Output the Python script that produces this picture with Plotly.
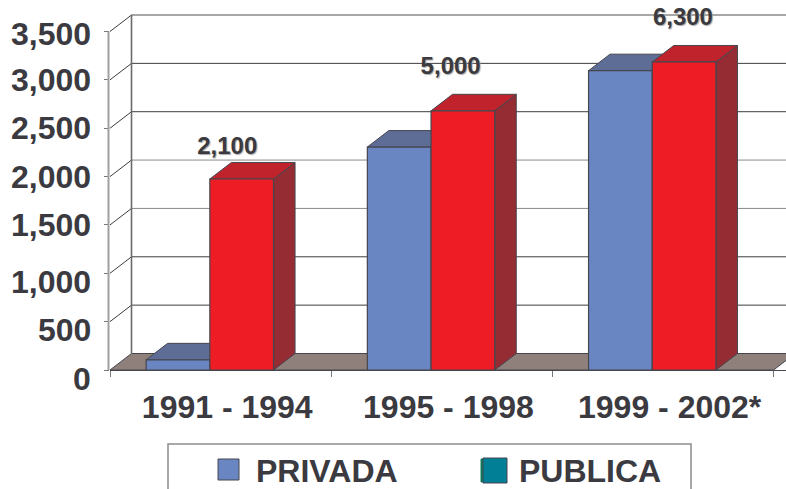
import plotly.graph_objects as go

# Data
categories = ["1991 - 1994", "1995 - 1998", "1999 - 2002*"]
privada = [105, 2305, 3095]
publica = [1975, 2680, 3185]
totals = ["2,100", "5,000", "6,300"]
total_label_x = [0.53, 1.54, 2.59]
total_label_y = [2296, 3123, 3630]
y_ticks = [0, 500, 1000, 1500, 2000, 2500, 3000, 3500]
y_tick_labels = ["0", "500", "1,000", "1,500", "2,000", "2,500", "3,000", "3,500"]
y_label_shift = [-9, -8, -9, 0, 0, 0, 0, -2]
legend_names = ["PRIVADA", "PUBLICA"]

# Styles / pseudo-3D geometry (in axis units)
W, H = 786, 489
L, B_PX = 110, 370
PX_X, PX_Y = 221.2, 338.5 / 3500
DX, DY = 21.5 / PX_X, 16.5 / PX_Y
BAR_W = 63.7 / PX_X
INK = "#3a3a40"
BLUE, BLUE_TOP, BLUE_SIDE = "#6A86C2", "#5D6D96", "#56648A"
RED, RED_TOP, RED_SIDE = "#EE1C25", "#C1232C", "#952C33"
FLOOR = "#8F807B"
EDGE = "#46464E"
FONT = "Liberation Sans"
BIG = 32

px2paper_x = lambda p: (p - L) / (W - L)
px2paper_y = lambda p: (B_PX - p) / B_PX

def poly(pts):
    return "M" + " L".join(f"{x},{y}" for x, y in pts) + " Z"

def data_shape(path, fill, line=EDGE, width=1):
    return dict(type="path", path=path, xref="x", yref="y", layer="below",
                fillcolor=fill, line=dict(color=line, width=width))

def line_shape(x0, y0, x1, y1, color, width=1):
    return dict(type="line", x0=x0, y0=y0, x1=x1, y1=y1, xref="x", yref="y",
                layer="below", line=dict(color=color, width=width))

n = len(categories)
centres = [i + 0.5 - DX / 2 for i in range(n)]
shapes = []

# floor
shapes.append(data_shape(poly([(0, 0), (DX, DY), (n + DX, DY), (n, 0)]), FLOOR))
# walls and grid
for v in y_ticks[1:]:
    c = "#8a8a8a" if v in (3500, 2000, 1500) else "#3c3c40"
    shapes.append(line_shape(DX, v + DY, n + DX, v + DY, c, 1.3 if v == 3500 else 1))
    shapes.append(line_shape(0, v, DX, v + DY, "#3c3c40"))
shapes.append(line_shape(DX, DY, DX, y_ticks[-1] + DY, "#6a6a6a", 1.6))
# value axis line, stopping at the top tick
shapes.append(dict(type="line", xref="paper", yref="y", x0=px2paper_x(108.5), x1=px2paper_x(108.5),
                   y0=0, y1=y_ticks[-1], line=dict(color="#a0a0a0", width=2)))

# top and side faces
for c, a, b in zip(centres, privada, publica):
    for x0, v, top, side in ((c - BAR_W, a, BLUE_TOP, BLUE_SIDE), (c, b, RED_TOP, RED_SIDE)):
        x1 = x0 + BAR_W
        shapes.append(data_shape(poly([(x1, 0), (x1 + DX, DY), (x1 + DX, v + DY), (x1, v)]), side))
        shapes.append(data_shape(poly([(x0, v), (x0 + DX, v + DY), (x1 + DX, v + DY), (x1, v)]), top))

# legend
LEG_L, LEG_R, LEG_T, LEG_B = 168, 691, 444, 500
def paper_rect(x0, y0, x1, y1, fill, line="#8c8c8c", width=1.5):
    return dict(type="rect", xref="paper", yref="paper", layer="above",
                x0=px2paper_x(x0), x1=px2paper_x(x1), y0=px2paper_y(y1), y1=px2paper_y(y0),
                fillcolor=fill, line=dict(color=line, width=width))
shapes.append(paper_rect(LEG_L, LEG_T, LEG_R, LEG_B, "white"))
shapes.append(paper_rect(218, 459, 239, 480, BLUE, EDGE, 1))
shapes.append(paper_rect(481, 459, 486, 482, "#0E7D5C", "#0E7D5C", 1))
shapes.append(paper_rect(483, 458, 507, 483, "#007F96", EDGE, 1))

annotations = [
    dict(text=t, x=px2paper_x(93), xref="paper", y=v, yref="y", yshift=s,
         xanchor="right", yanchor="middle", showarrow=False,
         font=dict(family=FONT, size=BIG, color=INK, weight="bold"))
    for t, v, s in zip(y_tick_labels, y_ticks, y_label_shift)
]
for name, px in zip(legend_names, (255, 518)):
    annotations.append(dict(text=name, x=px2paper_x(px), y=px2paper_y(470.5), xref="paper", yref="paper",
                            xanchor="left", yanchor="middle", showarrow=False, borderpad=0,
                            font=dict(family=FONT, size=BIG, color=INK, weight="bold")))

fig = go.Figure()
bar_line = dict(color=EDGE, width=1.2)
fig.add_bar(x=centres, y=privada, name=legend_names[0], width=BAR_W, offset=-BAR_W,
            marker=dict(color=BLUE, line=bar_line), showlegend=False)
fig.add_bar(x=centres, y=publica, name=legend_names[1], width=BAR_W, offset=0,
            marker=dict(color=RED, line=bar_line), showlegend=False)
fig.add_scatter(x=total_label_x, y=total_label_y, text=totals, mode="text",
                textposition="middle center", showlegend=False,
                textfont=dict(family=FONT, size=24, color=INK, weight="bold",
                              shadow="1px 1px 1px #a8a8a8"))

fig.update_layout(
    width=W, height=H, margin=dict(l=L, r=0, t=0, b=H - B_PX, autoexpand=False),
    paper_bgcolor="white", plot_bgcolor="white", showlegend=False, barmode="overlay",
    shapes=shapes, annotations=annotations,
    xaxis=dict(range=[0, (W - L) / PX_X], tickvals=[i + 0.53 for i in range(n)], ticktext=categories,
               ticks="", ticklabelstandoff=8, showgrid=False, zeroline=False,
               showline=True, linecolor=EDGE, linewidth=1.2,
               tickfont=dict(family=FONT, size=BIG, color=INK, weight="bold"),
               minor=dict(tickvals=list(range(n + 1)), ticks="outside", ticklen=6,
                          tickcolor="#777777", tickwidth=1, showgrid=False)),
    yaxis=dict(range=[0, B_PX / (PX_Y)], tickvals=y_ticks, showticklabels=False,
               ticks="outside", ticklen=5, tickcolor="#777777", tickwidth=1,
               showgrid=False, zeroline=False, showline=False),
)
fig.write_html("out.html", config=dict(displayModeBar=False),
               post_script="document.body.style.margin='0';document.body.style.overflow='hidden';")
